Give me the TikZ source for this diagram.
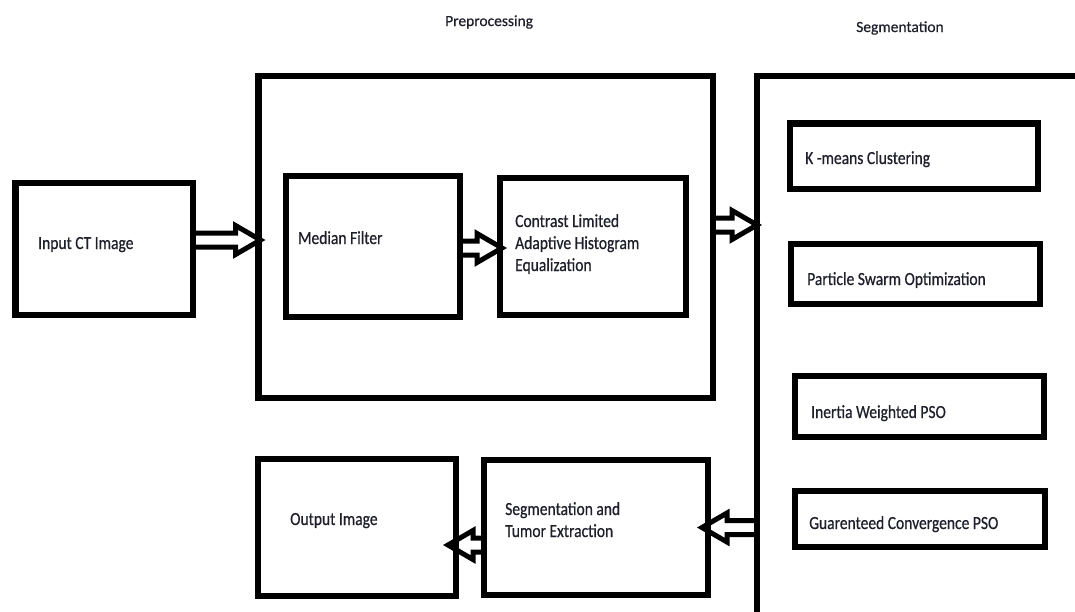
\documentclass[tikz,border=0pt]{standalone}
\usepackage{fontspec}
\setmainfont{Carlito}[FakeStretch=0.84, FakeBold=0.6]
\newfontfamily\headfont{Carlito}[FakeBold=0.5]
\usetikzlibrary{calc}
\definecolor{txt}{RGB}{30,30,45}

\begin{document}
\begin{tikzpicture}[x=1pt, y=-1pt,
  box/.style={rectangle, draw, line width=6.5pt, inner sep=0pt, outer sep=0pt},
  lbl/.style={anchor=base west, inner sep=0pt, text=txt, align=left, font=\fontsize{18.5}{22}\selectfont},
  head/.style={anchor=base west, inner sep=0pt, text=txt, font=\headfont\fontsize{15.5}{18}\selectfont},
  hollow/.style={line width=5pt, line join=miter, to path={let \p1=(\tikztostart), \p2=(\tikztotarget), \n1={ifthenelse(\x2>\x1,1,-1)} in
    ({\x1},{\y1+7pt}) -- ({\x2-\n1*25pt},{\y1+7pt}) -- ({\x2-\n1*25pt},{\y1+14.5pt}) -- ({\x2},{\y1})
    -- ({\x2-\n1*25pt},{\y1-14.5pt}) -- ({\x2-\n1*25pt},{\y1-7pt}) -- ({\x1},{\y1-7pt}) -- cycle}}]
  \useasboundingbox (0,0) rectangle (1075,611);
  \clip (0,0) rectangle (1075,611);

  \node (hpre) [head] at (445,26) {Preprocessing};
  \node (hseg) [head] at (856,32) {Segmentation};

  \node (inp) [box, minimum width=177.5, minimum height=132] at (104.25,249) {};
  \node (pre) [box, minimum width=454.5, minimum height=322] at (485.75,237) {};
  \node (mf) [box, minimum width=174, minimum height=141] at (373,246.5) {};
  \node (cl) [box, minimum width=186, minimum height=137] at (593,246.5) {};
  \node (seg) [box, minimum width=363, minimum height=584] at (938.5,368) {};
  \node (km) [box, minimum width=248, minimum height=65.5] at (914,156.25) {};
  \node (ps) [box, minimum width=249, minimum height=60] at (915.5,274) {};
  \node (iw) [box, minimum width=249, minimum height=61] at (919.5,406.5) {};
  \node (gc) [box, minimum width=250, minimum height=56] at (920,519) {};
  \node (st) [box, minimum width=224, minimum height=135] at (596,527.5) {};
  \node (out) [box, minimum width=198, minimum height=137] at (357,527.5) {};

  % multi-line labels: base is the last line
  \node (tinp) [lbl] at (38,249) {Input CT Image};
  \node (tmf) [lbl] at (298,244) {Median Filter};
  \node (tcl) [lbl] at (515,271) {Contrast Limited\\Adaptive Histogram\\Equalization};
  \node (tkm) [lbl] at (805,164) {K -means Clustering};
  \node (tps) [lbl] at (807,285) {Particle Swarm Optimization};
  \node (tiw) [lbl] at (811,418) {Inertia Weighted PSO};
  \node (tgc) [lbl] at (809,529) {Guarenteed Convergence PSO};
  \node (tst) [lbl] at (505,537) {Segmentation and\\Tumor Extraction};
  \node (tout) [lbl] at (290,525) {Output Image};

  \draw[hollow] ([yshift=9pt]inp.east) to ([xshift=2pt]pre.west);
  \draw[hollow] ([yshift=-1.5pt]mf.east) to ([xshift=2pt]cl.west);
  \draw[hollow] ([yshift=12pt]pre.east) to (seg.west);
  \draw[hollow] (seg.west |- st.east) to ([xshift=-6pt]st.east);
  \draw[hollow] ([yshift=-17.5pt]st.west) to ([xshift=-8pt]out.east);
\end{tikzpicture}
\end{document}
